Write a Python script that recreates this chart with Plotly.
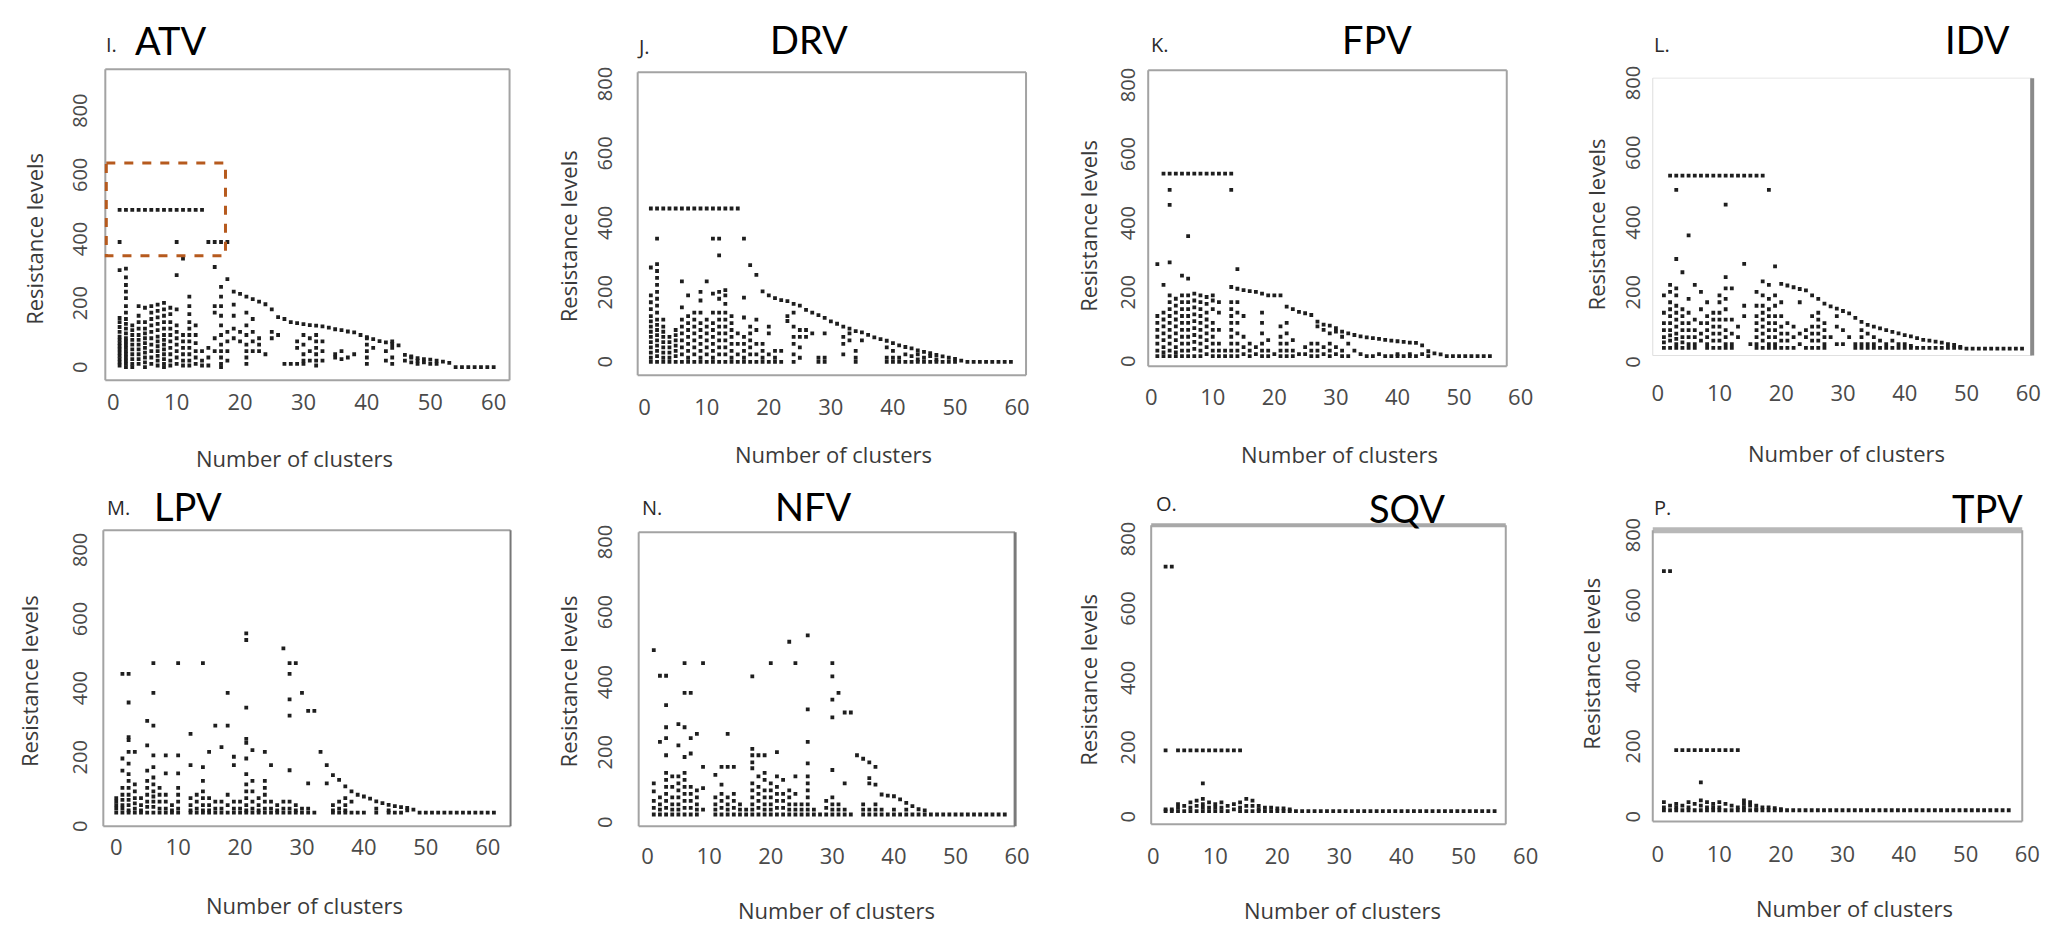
import plotly.graph_objects as go

W, H = 2069, 929

# ---------------- data: (cluster number, [resistance levels]) ----------------
ATV_COLUMNS = [
    (1, [500, 400, 312, 163, 150, 135, 120, 105, 95, 85, 75, 65, 55, 45, 35, 25, 15]),
    (2, [500, 317, 290, 266, 245, 225, 200, 180, 160, 145, 130, 115, 100, 90, 80, 70, 60, 50, 40, 30, 20, 10]),
    (3, [500, 140, 125, 110, 95, 80, 65, 50, 35, 20, 10]),
    (4, [500, 200, 170, 150, 130, 110, 95, 80, 65, 50, 35, 20]),
    (5, [500, 195, 150, 130, 115, 100, 85, 70, 55, 40, 25, 10]),
    (6, [500, 200, 180, 160, 140, 120, 100, 80, 60, 40, 20]),
    (7, [500, 205, 185, 165, 145, 125, 105, 90, 75, 60, 45, 30, 15]),
    (8, [500, 210, 190, 170, 150, 130, 110, 95, 80, 65, 50, 35, 20, 10]),
    (9, [500, 195, 175, 150, 130, 110, 90, 70, 50, 30, 15]),
    (10, [500, 400, 297, 190, 140, 120, 100, 80, 60, 40, 20]),
    (11, [500, 348, 110, 90, 70, 50, 30, 15]),
    (12, [500, 230, 200, 175, 150, 130, 110, 90, 70, 50, 30, 15]),
    (13, [500, 140, 110, 85, 60, 40, 20]),
    (14, [500, 60, 30, 15]),
    (15, [400, 70, 40, 15]),
    (16, [400, 322, 200, 180, 100, 60]),
    (17, [400, 260, 230, 200, 170, 140, 110, 80, 60, 40, 20, 10]),
    (18, [400, 284, 120, 90, 60, 30]),
    (19, [245, 205, 170, 130, 100]),
    (20, [238, 120, 90]),
    (21, [230, 180, 140, 110, 80, 60, 40, 20]),
    (22, [222, 160, 120, 90, 60]),
    (23, [214, 100, 80, 60]),
    (24, [206, 50]),
    (25, [190, 120, 100]),
    (26, [166, 110]),
    (27, [160, 20]),
    (28, [150, 20]),
    (29, [147, 90, 70, 20]),
    (30, [144, 110, 80, 50, 30, 20]),
    (31, [141, 100, 60, 30]),
    (32, [139, 110, 90, 70, 50, 30, 15]),
    (33, [137, 90, 60, 30]),
    (34, [133]),
    (35, [128, 50, 40]),
    (36, [125, 60, 35]),
    (37, [121, 40]),
    (38, [118, 50]),
    (39, [110]),
    (40, [103, 100, 80, 60, 40, 20]),
    (41, [97, 70]),
    (42, [91]),
    (43, [87, 60, 30]),
    (44, [82, 90, 70, 40, 20]),
    (45, [78]),
    (46, [48, 30]),
    (47, [43, 40, 25]),
    (48, [38, 30, 20]),
    (49, [35, 25]),
    (50, [33, 20]),
    (51, [30, 20]),
    (52, [27]),
    (53, [23]),
    (54, [10]), (55, [10]), (56, [10]), (57, [10]), (58, [10]), (59, [10]), (60, [10]),
]

DRV_COLUMNS = [
    (1, [450, 280, 200, 180, 160, 140, 125, 110, 95, 80, 65, 50, 35, 20, 8]),
    (2, [450, 363, 290, 270, 250, 230, 210, 190, 170, 150, 130, 115, 100, 85, 70, 55, 40, 25, 8]),
    (3, [450, 130, 110, 95, 80, 65, 50, 35, 20, 8]),
    (4, [450, 80, 65, 50, 35, 20, 8]),
    (5, [450, 100, 85, 70, 55, 40, 25, 8]),
    (6, [450, 240, 165, 130, 110, 90, 70, 50, 30, 8]),
    (7, [450, 200, 140, 120, 100, 80, 60, 40, 20, 8]),
    (8, [450, 150, 130, 110, 90, 70, 50, 30, 8]),
    (9, [450, 210, 185, 150, 120, 100, 80, 60, 40, 20, 8]),
    (10, [450, 240, 130, 110, 90, 70, 50, 30, 8]),
    (11, [450, 363, 205, 150, 120, 100, 80, 60, 40, 20, 8]),
    (12, [450, 363, 315, 210, 190, 150, 130, 110, 90, 70, 50, 30, 8]),
    (13, [450, 215, 200, 175, 150, 130, 110, 90, 70, 50, 30, 8]),
    (14, [450, 140, 120, 100, 80, 60, 40, 20, 8]),
    (15, [450, 90, 60, 30, 8]),
    (16, [363, 193, 136, 80, 60, 40, 20, 8]),
    (17, [287, 110, 90, 70, 50, 30, 8]),
    (18, [259, 130, 100, 60, 30, 8]),
    (19, [211, 60, 40, 20, 8]),
    (20, [200, 110, 90, 30, 8]),
    (21, [192, 40, 20, 8]),
    (22, [186, 40, 8]),
    (23, [183, 140, 126]),
    (24, [175, 150, 110, 80, 60, 30, 8]),
    (25, [170, 100, 80, 50, 20]),
    (26, [158, 100, 80]),
    (27, [150, 90]),
    (28, [143, 20, 8]),
    (29, [135, 90, 20, 8]),
    (30, [125]),
    (31, [118]),
    (32, [110, 80, 60, 30]),
    (33, [104, 90, 70]),
    (34, [97, 40, 20, 8]),
    (35, [93, 70]),
    (36, [86]),
    (37, [79]),
    (38, [74]),
    (39, [69, 50, 20, 8]),
    (40, [62, 40, 20, 8]),
    (41, [56, 20, 8]),
    (42, [51, 30, 8]),
    (43, [47, 25, 8]),
    (44, [41, 30, 15, 8]),
    (45, [37, 20, 8]),
    (46, [33, 25, 8]),
    (47, [28, 15, 8]),
    (48, [24, 8]),
    (49, [20, 8]),
    (50, [17, 8]),
    (51, [12]),
    (52, [8]), (53, [8]), (54, [8]), (55, [8]), (56, [8]), (57, [8]), (58, [8]), (59, [8]),
]

FPV_COLUMNS = [
    (1, [290, 140, 120, 100, 80, 60, 40, 24]),
    (2, [552, 230, 150, 130, 110, 90, 70, 50, 35, 24]),
    (3, [552, 505, 462, 295, 200, 180, 160, 140, 120, 100, 80, 60, 40, 24]),
    (4, [552, 190, 170, 150, 130, 110, 90, 70, 50, 35, 24]),
    (5, [552, 257, 200, 180, 160, 140, 120, 100, 80, 60, 40, 24]),
    (6, [552, 371, 248, 200, 180, 160, 140, 120, 100, 80, 60, 40, 24]),
    (7, [552, 205, 185, 165, 145, 125, 105, 85, 65, 45, 24]),
    (8, [552, 200, 180, 160, 140, 120, 100, 80, 60, 40, 24]),
    (9, [552, 195, 175, 150, 130, 110, 90, 70, 50, 30]),
    (10, [552, 200, 185, 160, 120, 100, 80, 60, 40, 24]),
    (11, [552, 180, 150, 100, 60, 40, 24]),
    (12, [552, 40, 24]),
    (13, [552, 505, 224, 180, 160, 140, 120, 100, 80, 60, 40, 24]),
    (14, [276, 219, 180, 150, 120, 90, 60, 40, 24]),
    (15, [215, 140, 80, 50, 30]),
    (16, [212, 60, 40, 24]),
    (17, [210, 50, 30]),
    (18, [205, 150, 120, 90, 60, 40, 24]),
    (19, [200, 70, 40, 24]),
    (20, [200, 30]),
    (21, [200, 110, 80, 60, 40, 24]),
    (22, [167, 120, 90, 60, 40, 24]),
    (23, [160, 70, 40, 24]),
    (24, [152, 30]),
    (25, [148, 50, 30]),
    (26, [143, 60, 40, 24]),
    (27, [124, 110, 60, 40, 24]),
    (28, [115, 100, 50, 30]),
    (29, [112, 90, 60, 40, 24]),
    (30, [105, 95, 50, 30]),
    (31, [95, 80, 40, 24]),
    (32, [90, 60, 24]),
    (33, [85, 40]),
    (34, [81, 30]),
    (35, [78, 24]),
    (36, [76, 24]),
    (37, [74, 30]),
    (38, [71, 24]),
    (39, [69, 24]),
    (40, [67, 30, 24]),
    (41, [65, 24]),
    (42, [63, 30, 24]),
    (43, [62, 24]),
    (44, [55, 30]),
    (45, [38, 24]),
    (46, [32]),
    (47, [29]),
    (48, [24]), (49, [24]), (50, [24]), (51, [24]), (52, [24]), (53, [24]), (54, [24]), (55, [24]),
]

IDV_COLUMNS = [
    (1, [200, 150, 120, 100, 80, 65, 49]),
    (2, [543, 230, 210, 180, 160, 140, 120, 100, 85, 70, 49]),
    (3, [543, 502, 304, 220, 200, 170, 150, 130, 110, 90, 75, 60, 49]),
    (4, [543, 266, 160, 140, 120, 100, 80, 65, 49]),
    (5, [543, 372, 190, 150, 120, 100, 80, 60, 49]),
    (6, [543, 230, 130, 100, 80, 60, 49]),
    (7, [543, 210, 160, 120, 90, 70]),
    (8, [543, 180, 140, 120, 100, 80, 60, 49]),
    (9, [543, 150, 130, 110, 90, 70, 49]),
    (10, [543, 200, 180, 150, 130, 110, 90, 70, 49]),
    (11, [543, 460, 252, 220, 190, 160, 130, 100, 80, 60, 49]),
    (12, [543, 220, 130, 90, 60, 49]),
    (13, [543, 110, 80]),
    (14, [543, 290, 170, 140]),
    (15, [543, 60]),
    (16, [543, 210, 170, 140, 120, 100, 80, 60, 49]),
    (17, [543, 240, 200, 170, 150, 130, 110, 90, 70, 49]),
    (18, [502, 230, 190, 160, 140, 120, 100, 80, 60, 49]),
    (19, [283, 200, 170, 140, 120, 100, 80, 60, 49]),
    (20, [233, 180, 140, 110, 90, 70, 49]),
    (21, [228, 120, 90, 70, 49]),
    (22, [223, 110, 80, 49]),
    (23, [218, 180, 90, 60]),
    (24, [214, 100, 80, 49]),
    (25, [200, 140, 110, 90, 70, 49]),
    (26, [190, 150, 130, 110, 90, 70, 49]),
    (27, [176, 120, 100, 80, 60, 49]),
    (28, [168, 80]),
    (29, [162, 140, 110, 60]),
    (30, [155, 100, 60]),
    (31, [148, 80]),
    (32, [135, 60, 49]),
    (33, [124, 100, 80, 60, 49]),
    (34, [115, 90, 60, 49]),
    (35, [110, 80, 60, 49]),
    (36, [105, 70, 49]),
    (37, [100, 60, 49]),
    (38, [95, 70, 49]),
    (39, [91, 60, 49]),
    (40, [86, 60, 49]),
    (41, [82, 55, 49]),
    (42, [77, 49]),
    (43, [72, 49]),
    (44, [70, 49]),
    (45, [67, 49]),
    (46, [64, 49]),
    (47, [60, 49]),
    (48, [58, 49]),
    (49, [52, 49]),
    (50, [47]), (51, [47]), (52, [47]), (53, [47]), (54, [47]), (55, [47]), (56, [47]), (57, [47]), (58, [47]), (59, [47]),
]

LPV_COLUMNS = [
    (0, [90, 80, 70, 60, 48]),
    (1, [450, 205, 170, 120, 100, 85, 70, 60, 48]),
    (2, [450, 367, 267, 258, 224, 190, 160, 140, 120, 100, 85, 70, 55, 48]),
    (3, [224, 130, 110, 90, 75, 60, 48]),
    (4, [90, 70, 55, 48]),
    (5, [314, 243, 170, 140, 120, 100, 80, 65, 48]),
    (6, [481, 395, 300, 214, 180, 150, 130, 110, 95, 80, 65, 48]),
    (7, [120, 100, 80, 60, 48]),
    (8, [214, 162, 100, 80, 60, 48]),
    (9, [70, 55, 48]),
    (10, [481, 214, 162, 120, 100, 80, 60, 48]),
    (12, [276, 186, 90, 70, 55, 48]),
    (13, [100, 80, 60, 48]),
    (14, [481, 180, 140, 110, 90, 70, 55, 48]),
    (15, [224, 90, 70, 55, 48]),
    (16, [300, 80, 60, 48]),
    (17, [238, 80, 60, 48]),
    (18, [395, 300, 100, 70, 48]),
    (19, [210, 186, 80, 60, 48]),
    (20, [80, 60, 48]),
    (21, [567, 548, 352, 262, 250, 205, 160, 130, 110, 90, 70, 55, 48]),
    (22, [229, 140, 110, 80, 60, 48]),
    (23, [90, 70, 55, 48]),
    (24, [224, 140, 120, 100, 80, 60, 48]),
    (25, [186, 80, 60, 48]),
    (26, [70, 55, 48]),
    (27, [524, 80, 60, 48]),
    (28, [481, 450, 376, 329, 171, 80, 60, 48]),
    (29, [481, 70, 55, 48]),
    (30, [395, 60, 48]),
    (31, [343, 133, 60, 48]),
    (32, [343, 48]),
    (33, [224]),
    (34, [186, 133]),
    (35, [157, 70, 55, 48]),
    (36, [143, 80, 60, 48]),
    (37, [124, 90, 70, 55, 48]),
    (38, [110, 80, 48]),
    (39, [100, 48]),
    (40, [95, 48]),
    (41, [89]),
    (42, [81, 60, 48]),
    (43, [76]),
    (44, [71, 55, 48]),
    (45, [67, 48]),
    (46, [64, 48]),
    (47, [62, 55]),
    (48, [57]),
    (49, [48]), (50, [48]), (51, [48]), (52, [48]), (53, [48]), (54, [48]), (55, [48]),
    (56, [48]), (57, [48]), (58, [48]), (59, [48]), (60, [48]), (61, [48]),
]

NFV_COLUMNS = [
    (1, [500, 120, 97, 70, 50, 31]),
    (2, [427, 238, 80, 60, 45, 31]),
    (3, [427, 343, 280, 249, 200, 150, 130, 110, 90, 70, 50, 31]),
    (4, [140, 110, 80, 60, 45, 31]),
    (5, [289, 228, 140, 120, 100, 80, 60, 45, 31]),
    (6, [463, 378, 280, 195, 150, 130, 110, 90, 70, 50, 31]),
    (7, [378, 249, 205, 110, 90, 70, 50, 31]),
    (8, [261, 100, 80, 60, 45, 31]),
    (9, [463, 167, 106, 45]),
    (11, [144, 80, 60, 45, 31]),
    (12, [167, 116, 90, 70, 50, 31]),
    (13, [261, 167, 80, 60, 45, 31]),
    (14, [167, 90, 70, 50, 31]),
    (15, [60, 45, 31]),
    (16, [45, 31]),
    (17, [425, 218, 200, 180, 163, 120, 100, 80, 60, 45, 31]),
    (18, [200, 140, 110, 90, 70, 50, 31]),
    (19, [200, 150, 130, 100, 80, 60, 45, 31]),
    (20, [463, 120, 100, 80, 60, 45, 31]),
    (21, [209, 140, 110, 90, 70, 50, 31]),
    (22, [130, 90, 70, 50, 31]),
    (23, [524, 100, 80, 60, 45, 31]),
    (24, [463, 140, 90, 60, 45, 31]),
    (25, [60, 45, 31]),
    (26, [542, 331, 238, 177, 140, 120, 100, 80, 60, 45, 31]),
    (27, [45, 31]),
    (28, [31]),
    (29, [70, 50, 31]),
    (30, [463, 425, 359, 308, 158, 80, 60, 45, 31]),
    (31, [378, 60, 45, 31]),
    (32, [322, 120, 45, 31]),
    (33, [322, 31]),
    (34, [200]),
    (35, [190, 60, 45, 31]),
    (36, [180, 135, 120, 45, 31]),
    (37, [167, 116, 60, 45, 31]),
    (38, [88, 45, 31]),
    (39, [85, 31]),
    (40, [83, 45, 31]),
    (41, [74, 31]),
    (42, [64, 45, 31]),
    (43, [55, 31]),
    (44, [46, 31]),
    (45, [43, 31]),
    (46, [31]), (47, [31]), (48, [31]), (49, [31]), (50, [31]), (51, [31]), (52, [31]),
    (53, [31]), (54, [31]), (55, [31]), (56, [31]), (57, [31]), (58, [31]),
]

SQV_COLUMNS = [
    (2, [729, 200, 30, 25]),
    (3, [729, 30, 25]),
    (4, [200, 45, 35, 25]),
    (5, [200, 40, 25]),
    (6, [200, 50, 35, 25]),
    (7, [200, 55, 40, 25]),
    (8, [200, 105, 60, 45, 35, 25]),
    (9, [200, 50, 35, 25]),
    (10, [200, 45, 35, 25]),
    (11, [200, 50, 35, 25]),
    (12, [200, 40, 25]),
    (13, [200, 45, 30]),
    (14, [200, 50, 35, 25]),
    (15, [60, 40, 25]),
    (16, [55, 40, 25]),
    (17, [40, 30, 25]),
    (18, [35, 25]),
    (19, [35, 25]),
    (20, [33, 25]),
    (21, [33, 25]),
    (22, [30, 25]),
    (23, [25]), (24, [25]), (25, [25]), (26, [25]), (27, [25]), (28, [25]), (29, [25]),
    (30, [25]), (31, [25]), (32, [25]), (33, [25]), (34, [25]), (35, [25]), (36, [25]),
    (37, [25]), (38, [25]), (39, [25]), (40, [25]), (41, [25]), (42, [25]), (43, [25]),
    (44, [25]), (45, [25]), (46, [25]), (47, [25]), (48, [25]), (49, [25]), (50, [25]),
    (51, [25]), (52, [25]), (53, [25]), (54, [25]), (55, [25]),
]

TPV_COLUMNS = [
    (1, [706, 50, 35, 27]),
    (2, [706, 40, 27]),
    (3, [198, 45, 35, 27]),
    (4, [198, 40, 27]),
    (5, [198, 50, 35, 27]),
    (6, [198, 45, 27]),
    (7, [198, 106, 55, 40, 27]),
    (8, [198, 50, 35, 27]),
    (9, [198, 45, 35, 27]),
    (10, [198, 50, 35, 27]),
    (11, [198, 45, 27]),
    (12, [198, 40, 27]),
    (13, [198, 35, 27]),
    (14, [55, 45, 35, 27]),
    (15, [50, 40, 27]),
    (16, [40, 30, 27]),
    (17, [35, 27]),
    (18, [35, 27]),
    (19, [33, 27]),
    (20, [30, 27]),
    (21, [27]), (22, [27]), (23, [27]), (24, [27]), (25, [27]), (26, [27]), (27, [27]),
    (28, [27]), (29, [27]), (30, [27]), (31, [27]), (32, [27]), (33, [27]), (34, [27]),
    (35, [27]), (36, [27]), (37, [27]), (38, [27]), (39, [27]), (40, [27]), (41, [27]),
    (42, [27]), (43, [27]), (44, [27]), (45, [27]), (46, [27]), (47, [27]), (48, [27]),
    (49, [27]), (50, [27]), (51, [27]), (52, [27]), (53, [27]), (54, [27]), (55, [27]),
    (56, [27]), (57, [27]),
]

X_TICKS = [0, 10, 20, 30, 40, 50, 60]
Y_TICKS = [0, 200, 400, 600, 800]
X_TITLE = "Number of clusters"
Y_TITLE = "Resistance levels"

# ---------------- layout (pixel geometry of each panel) ----------------
PANELS = [
    dict(name="ATV", letter="I.", cols=ATV_COLUMNS, frame=(102, 509, 58, 373), x0=110, x60=493,
         y800=103, y200=298, xlab_y=402, ylab_x=75, xt=(292, 452), yt=(30, 230),
         lp=(108, 33), tp=(168, 28), sides={}),
    dict(name="DRV", letter="J.", cols=DRV_COLUMNS, frame=(638, 1029, 61, 368), x0=645, x60=1020,
         y800=76, y200=287, xlab_y=407, ylab_x=603, xt=(835, 448), yt=(568, 227),
         lp=(644, 35), tp=(810, 27), sides={}),
    dict(name="FPV", letter="K.", cols=FPV_COLUMNS, frame=(1152, 1513, 59, 359), x0=1155, x60=1527,
         y800=77, y200=287, xlab_y=397, ylab_x=1130, xt=(1345, 448), yt=(1092, 217),
         lp=(1164, 33), tp=(1382, 27), sides={}),
    dict(name="IDV", letter="L.", cols=IDV_COLUMNS, frame=(1660, 2042, 67, 348), x0=1665, x60=2038,
         y800=75, y200=287, xlab_y=393, ylab_x=1638, xt=(1855, 447), yt=(1603, 215),
         lp=(1669, 33), tp=(1987, 27),
         sides={"top": ("#e6e6e6", 1), "left": ("#dddddd", 1), "bottom": ("#e0e0e0", 1), "right": ("#8a8a8a", 4)}),
    dict(name="LPV", letter="M.", cols=LPV_COLUMNS, frame=(100, 510, 525, 825), x0=113, x60=487,
         y800=548, y200=758, xlab_y=853, ylab_x=75, xt=(303, 905), yt=(25, 678),
         lp=(115, 502), tp=(185, 500), sides={"right": ("#777777", 2)}),
    dict(name="NFV", letter="N.", cols=NFV_COLUMNS, frame=(639, 1018, 527, 825), x0=648, x60=1020,
         y800=540, y200=753, xlab_y=862, ylab_x=603, xt=(838, 910), yt=(568, 678),
         lp=(652, 502), tp=(815, 500), sides={"right": ("#7a7a7a", 3)}),
    dict(name="SQV", letter="O.", cols=SQV_COLUMNS, frame=(1155, 1512, 520, 823), x0=1157, x60=1532,
         y800=537, y200=748, xlab_y=862, ylab_x=1130, xt=(1348, 910), yt=(1092, 677),
         lp=(1170, 498), tp=(1413, 502), sides={"top": ("#a8a8a8", 4)}),
    dict(name="TPV", letter="P.", cols=TPV_COLUMNS, frame=(1660, 2032, 525, 820), x0=1665, x60=2037,
         y800=533, y200=747, xlab_y=860, ylab_x=1638, xt=(1863, 908), yt=(1598, 660),
         lp=(1670, 502), tp=(1997, 502), sides={"top": ("#b8b8b8", 6)}),
]

FONT = "Open Sans"
TITLE_FONT = "Lato"


def px(x):
    return x / W


def py(y):
    return 1 - y / H


fig = go.Figure()
layout = dict(width=W, height=H, margin=dict(l=0, r=0, t=0, b=0),
              paper_bgcolor="white", plot_bgcolor="white", showlegend=False)
shapes = []
annotations = []

for i, p in enumerate(PANELS):
    idx = "" if i == 0 else str(i + 1)
    L, R, T, B = p["frame"]
    sx = (p["x60"] - p["x0"]) / 60.0
    sy = (p["y200"] - p["y800"]) / 600.0
    Rd = max(R, p["x60"] + 3)
    y0px = p["y800"] + 800 * sy
    Bd = max(B, y0px + 3)

    def x_at(pxl):
        return (pxl - p["x0"]) / sx

    def y_at(pxl):
        return 800 - (pxl - p["y800"]) / sy

    xs, ys = [], []
    for cx, vals in p["cols"]:
        for v in vals:
            xs.append(cx)
            ys.append(v)

    fig.add_trace(go.Scatter(
        x=xs, y=ys, mode="markers", xaxis="x" + idx, yaxis="y" + idx,
        marker=dict(size=3.8, color="#1e1e1e", symbol="square", line=dict(width=0)),
        hoverinfo="x+y", name=p["name"]))

    layout["xaxis" + idx] = dict(
        domain=[px(L), px(Rd)], range=[x_at(L), x_at(Rd)], anchor="y" + idx,
        showgrid=False, zeroline=False, showline=False, ticks="",
        tickmode="array", tickvals=X_TICKS, ticktext=[str(t) for t in X_TICKS],
        tickfont=dict(family=FONT, size=22, color="#4a4a4a"),
        ticklabelstandoff=max(0, int(p["xlab_y"] - Bd - 22)), fixedrange=True)
    layout["yaxis" + idx] = dict(
        domain=[py(Bd), py(T)], range=[y_at(Bd), y_at(T)], anchor="x" + idx,
        showgrid=False, zeroline=False, showline=False, ticks="",
        tickmode="array", tickvals=Y_TICKS, ticktext=[str(t) for t in Y_TICKS],
        tickangle=-90, tickfont=dict(family=FONT, size=20, color="#4a4a4a"),
        ticklabelstandoff=max(0, int(L - p["ylab_x"] - 14)), fixedrange=True)

    # frame
    default = ("#a3a3a3", 2)
    sides = p["sides"]
    segs = {
        "top": (L, T, R, T), "bottom": (L, B, R, B),
        "left": (L, T, L, B), "right": (R, T, R, B),
    }
    for side, (xa, ya, xb, yb) in segs.items():
        col, wid = sides.get(side, default)
        shapes.append(dict(type="line", xref="paper", yref="paper",
                           x0=px(xa), y0=py(ya), x1=px(xb), y1=py(yb),
                           line=dict(color=col, width=wid), layer="below"))

    annotations.append(dict(text=X_TITLE, x=px(p["xt"][0]), y=py(p["xt"][1]), xref="paper", yref="paper",
                            showarrow=False, xanchor="center", yanchor="middle",
                            font=dict(family=FONT, size=22, color="#3a3a3a")))
    annotations.append(dict(text=Y_TITLE, x=px(p["yt"][0]), y=py(p["yt"][1]), xref="paper", yref="paper",
                            showarrow=False, xanchor="center", yanchor="middle", textangle=-90,
                            font=dict(family=FONT, size=22, color="#3a3a3a")))
    annotations.append(dict(text=p["letter"], x=px(p["lp"][0]), y=py(p["lp"][1]), xref="paper", yref="paper",
                            showarrow=False, xanchor="center", yanchor="middle",
                            font=dict(family=FONT, size=20, color="#2a2a2a")))
    annotations.append(dict(text=p["name"], x=px(p["tp"][0]), y=py(p["tp"][1]), xref="paper", yref="paper",
                            showarrow=False, xanchor="center", yanchor="middle",
                            font=dict(family=TITLE_FONT, size=38, color="#000000")))

# highlighted region in the ATV panel
shapes.append(dict(type="rect", xref="paper", yref="paper",
                   x0=px(103), y0=py(153), x1=px(223), y1=py(247),
                   line=dict(color="#B65A1E", width=3, dash="dash"), fillcolor="rgba(0,0,0,0)"))

layout["shapes"] = shapes
layout["annotations"] = annotations
fig.update_layout(**layout)

fig.write_html("out.html", config={"displayModeBar": False})
